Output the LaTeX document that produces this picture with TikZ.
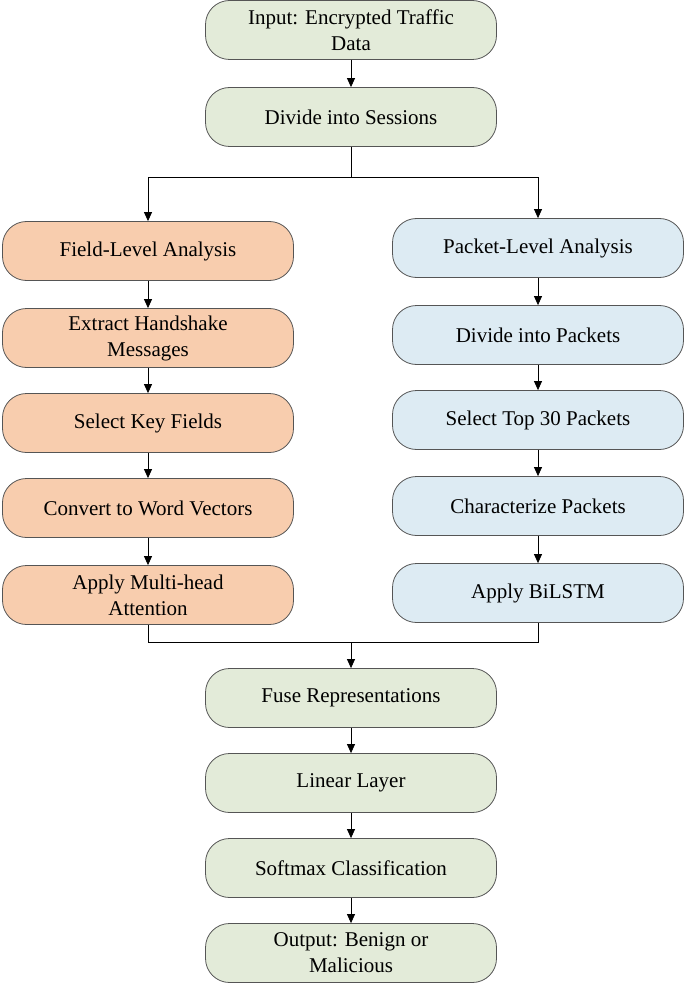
\documentclass[tikz,border=0pt]{standalone}
\usepackage{fontspec}
\setmainfont{Liberation Serif}
\usetikzlibrary{arrows.meta}
\definecolor{gfill}{HTML}{E3EBD9}
\definecolor{ofill}{HTML}{F8CDAE}
\definecolor{bfill}{HTML}{DDEBF3}
\definecolor{edge}{HTML}{555555}
\begin{document}
\begin{tikzpicture}[x=1pt,y=-1pt,
 box/.style={draw=edge,line width=0.8pt,rounded corners=24pt,minimum width=291pt,minimum height=59pt,align=center,inner sep=2pt,font=\fontsize{21}{26}\selectfont},
 g/.style={box,fill=gfill}, o/.style={box,fill=ofill}, b/.style={box,fill=bfill},
 ar/.style={-{Triangle[length=9pt,width=8pt]},line width=0.8pt},
 ln/.style={line width=0.8pt}]
\useasboundingbox (0,0) rectangle (685,984);
\node[g] (in) at (351,30) {Input: Encrypted Traffic\\Data};
\node[g] (ds) at (351,117) {Divide into Sessions};
\node[o] (l1) at (148,251) {Field-Level Analysis};
\node[o] (l2) at (148,338) {Extract Handshake\\Messages};
\node[o] (l3) at (148,423) {Select Key Fields};
\node[o] (l4) at (148,508) {Convert to Word Vectors};
\node[o] (l5) at (148,595) {Apply Multi-head\\Attention};
\node[b] (r1) at (538,248) {Packet-Level Analysis};
\node[b] (r2) at (538,335) {Divide into Packets};
\node[b] (r3) at (538,420) {Select Top 30 Packets};
\node[b] (r4) at (538,506) {Characterize Packets};
\node[b] (r5) at (538,593) {Apply BiLSTM};
\node[g] (f) at (351,698) {Fuse Representations};
\node[g] (ll) at (351,783) {Linear Layer};
\node[g] (sm) at (351,868) {Softmax Classification};
\node[g] (out) at (351,953) {Output: Benign or\\Malicious};
\coordinate (s) at (351,177);
\coordinate (m) at (351,642);
\draw[ar] (in) -- (ds);
\draw[ln] (ds) -- (s);
\draw[ar] (s) -| (l1);
\draw[ar] (s) -| (r1);
\draw[ar] (l1) -- (l2); \draw[ar] (l2) -- (l3); \draw[ar] (l3) -- (l4); \draw[ar] (l4) -- (l5);
\draw[ar] (r1) -- (r2); \draw[ar] (r2) -- (r3); \draw[ar] (r3) -- (r4); \draw[ar] (r4) -- (r5);
\draw[ln] (l5) |- (m); \draw[ln] (r5) |- (m);
\draw[ar] (m) -- (f);
\draw[ar] (f) -- (ll); \draw[ar] (ll) -- (sm); \draw[ar] (sm) -- (out);
\end{tikzpicture}
\end{document}
